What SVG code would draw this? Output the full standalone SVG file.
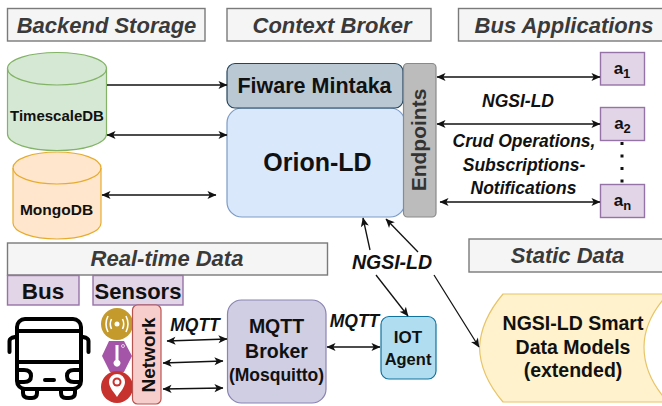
<svg xmlns="http://www.w3.org/2000/svg" width="662" height="406" viewBox="0 0 662 406">
<style>
text{font-family:"Liberation Sans",Arial,sans-serif;text-anchor:middle;fill:#111}
.b{font-weight:bold}
.h{font-weight:bold;font-style:italic;font-size:22px;fill:#3a3a3a}
.hb{fill:#f5f5f5;stroke:#7a7a7a;stroke-width:1.4}
.l{font-weight:bold;font-style:italic;font-size:17.500px}
.m{font-style:italic;font-size:17.500px;font-weight:bold}
.pur{fill:#e1d5e7;stroke:#9673a6;stroke-width:1.4}
.c{fill:none;stroke:#111;stroke-width:1.3}
.c2{stroke-width:1.6}
.bus{fill:none;stroke:#000;stroke-width:4;stroke-linecap:round;stroke-linejoin:round}
.ic{fill:none;stroke:#fff;stroke-width:1.6}
</style>
<defs>
<marker id="a" viewBox="0 0 10 10" refX="9.5" refY="5" markerWidth="10" markerHeight="9" markerUnits="userSpaceOnUse" orient="auto-start-reverse"><path d="M0 0.5L10 5L0 9.5L2.5 5Z" fill="#111"/></marker>
</defs>
<g id="header-backend"><rect class="hb" x="7.500" y="8.500" width="197.500" height="32.500"/><text class="h" x="106.500" y="33">Backend Storage</text></g>
<g id="header-broker"><rect class="hb" x="227" y="8.500" width="204" height="32.500"/><text class="h" x="332" y="33">Context Broker</text></g>
<g id="header-bus-apps"><rect class="hb" x="458.500" y="8.500" width="210" height="32.500"/><text class="h" x="564" y="33">Bus Applications</text></g>
<g id="timescaledb">
<path d="M7.500 68.500C7.500 59.500 29.500 52.500 57 52.500S106.500 59.500 106.500 68.500V134C106.500 143.500 84.500 150.500 57 150.500S7.500 143.500 7.500 134Z" fill="#d5e8d4" stroke="#82b366" stroke-width="1.200"/>
<path d="M7.500 68.500C7.500 77.500 29.500 85 57 85S106.500 77.500 106.500 68.500" fill="none" stroke="#82b366" stroke-width="1.200"/>
<text class="b" x="57" y="121" font-size="15">TimescaleDB</text></g>
<g id="mongodb">
<path d="M13 168C13 159 32.500 152 57 152S101 159 101 168V223C101 232 81.500 239 57 239S13 232 13 223Z" fill="#ffe6cc" stroke="#e6ac2e" stroke-width="1.200"/>
<path d="M13 168C13 177 32.500 184 57 184S101 177 101 168" fill="none" stroke="#e6ac2e" stroke-width="1.200"/>
<text class="b" x="56.500" y="215" font-size="15.500">MongoDB</text></g>
<g id="orion-ld"><rect x="227" y="108" width="178" height="109" rx="15" fill="#dae8fc" stroke="#7c9cc6" stroke-width="1.200"/><text class="b" x="317.500" y="171" font-size="25">Orion-LD</text></g>
<g id="fiware-mintaka"><rect x="227" y="63.500" width="176" height="44.500" rx="8" fill="#bac8d3" stroke="#23445d" stroke-width="1.200"/><text class="b" x="314.500" y="93" font-size="21.500">Fiware Mintaka</text></g>
<g id="endpoints"><rect x="403.500" y="63.500" width="32.500" height="153.500" rx="4" fill="#bcbcbc" stroke="#8a8a8a" stroke-width="1.200"/><text class="b" x="0" y="0" font-size="21" transform="translate(426 140) rotate(-90)" style="fill:#333">Endpoints</text></g>
<g id="a1"><rect class="pur" x="600.500" y="52.500" width="44" height="32.500"/><text class="b" x="622" y="74" font-size="17">a<tspan font-size="13" dy="4">1</tspan></text></g>
<g id="a2"><rect class="pur" x="600.500" y="107.500" width="44" height="33"/><text class="b" x="622.500" y="129" font-size="17">a<tspan font-size="13" dy="4">2</tspan></text></g>
<g id="an"><rect class="pur" x="600.500" y="184.500" width="44" height="33"/><text class="b" x="622.500" y="206" font-size="17">a<tspan font-size="13" dy="4">n</tspan></text></g>
<g id="header-realtime"><rect class="hb" x="7.500" y="243" width="320" height="32"/><text class="h" x="167" y="266">Real-time Data</text></g>
<g id="bus-label"><rect class="pur" x="7.500" y="275.500" width="71.500" height="29.500"/><text class="b" x="43" y="299" font-size="22.500">Bus</text></g>
<g id="sensors-label"><rect class="pur" x="93" y="275.500" width="90" height="29.500"/><text class="b" x="138" y="299" font-size="22">Sensors</text></g>
<g id="bus-icon">
<rect class="bus" x="17" y="319" width="64" height="70" rx="8"/>
<path class="bus" d="M17 331H81M17 362H81M9.500 352V341Q9.500 338 15 337M88.500 352V341Q88.500 338 83 337M19 370H24Q31 370 31 376Q31 382 24 382H19M79 370H74Q67 370 67 376Q67 382 74 382H79M45 380H54"/>
<path class="bus" d="M23 390V393Q23 398 29 398H32Q37 398 37 393V390M61 390V393Q61 398 66 398H69Q75 398 75 393V390"/>
</g>
<g id="sensor-wifi"><circle cx="117" cy="324" r="16" fill="#c49a2c"/><circle cx="117" cy="324" r="2.500" fill="#fff"/><path class="ic" d="M111.500 319Q109 324 111.500 329M122.500 319Q125 324 122.500 329M108 316Q104 324 108 332M126 316Q130 324 126 332"/></g>
<g id="sensor-temp"><path d="M109 341H124L132 356L124 372H110L102 356Z" fill="#a455a8"/><path d="M115.500 345H118.500V360A3.500 3.500 0 1 1 115.500 360Z" fill="#fff"/><circle cx="123" cy="346" r="1.500" fill="none" stroke="#fff" stroke-width=".7"/></g>
<g id="sensor-location"><circle cx="117" cy="387" r="16" fill="#c8322e"/><path d="M117 397C113 391 109 387 109 382A8 8 0 0 1 125 382C125 387 121 391 117 397Z" fill="#fff"/><circle cx="117" cy="382" r="4.500" fill="#c8322e"/><circle cx="117" cy="382" r="2.500" fill="#fff"/></g>
<g id="network"><rect x="132.500" y="305" width="28.500" height="99" rx="5" fill="#f8cecc" stroke="#b85450" stroke-width="1.200"/><text class="b" x="0" y="0" font-size="19" transform="translate(155 355) rotate(-90)">Network</text></g>
<g id="mqtt-broker"><rect x="227.500" y="300" width="98.500" height="103" rx="14" fill="#d0cee2" stroke="#8a83b5" stroke-width="1.200"/><text class="b" x="276.500" y="333" font-size="19.500">MQTT</text><text class="b" x="276.500" y="358" font-size="19.500">Broker</text><text class="b" x="276.500" y="381" font-size="17.500">(Mosquitto)</text></g>
<g id="iot-agent"><rect x="381" y="316.500" width="55" height="62.500" rx="8" fill="#b1ddf0" stroke="#10739e" stroke-width="1.200"/><text class="b" x="408" y="343" font-size="17">IOT</text><text class="b" x="408" y="365" font-size="16.500">Agent</text></g>
<g id="header-static"><rect class="hb" x="469" y="239" width="200" height="33"/><text class="h" x="567.500" y="263">Static Data</text></g>
<g id="smart-data-models"><path d="M503 294H668V402H503Q480 375 479.500 347Q481 320 503 294Z" fill="#fff2cc" stroke="#e8c468" stroke-width="1.200"/><path d="M668 294Q644 320 644 347Q644 376 668 402Z" fill="#fff" stroke="#e8c468" stroke-width="1.200"/><text class="b" x="573" y="330" font-size="19.500">NGSI-LD Smart</text><text class="b" x="573" y="354" font-size="19.500">Data Models</text><text class="b" x="573" y="377" font-size="19.500">(extended)</text></g>
<g id="connectors">
<path class="c" marker-end="url(#a)" d="M107 85H227"/>
<path class="c c2" marker-start="url(#a)" marker-end="url(#a)" d="M107 135H227"/>
<path class="c" marker-start="url(#a)" marker-end="url(#a)" d="M102 195H216"/>
<path class="c c2" marker-start="url(#a)" marker-end="url(#a)" d="M437 77H600"/>
<path class="c c2" marker-start="url(#a)" marker-end="url(#a)" d="M437 124H600"/>
<path class="c" marker-start="url(#a)" marker-end="url(#a)" d="M440 202H600"/>
<path class="c" marker-end="url(#a)" d="M370 250L363 218"/>
<path class="c" marker-end="url(#a)" d="M418 252L386 219"/>
<path class="c" marker-end="url(#a)" d="M376 275L408 316"/>
<path class="c" marker-end="url(#a)" d="M434 275L479 347"/>
<path class="c" marker-start="url(#a)" marker-end="url(#a)" d="M327 347H380"/>
<path class="c" marker-start="url(#a)" marker-end="url(#a)" d="M167 341L227 339"/>
<path class="c" marker-start="url(#a)" marker-end="url(#a)" d="M163 363L223 361"/>
<path class="c" marker-start="url(#a)" marker-end="url(#a)" d="M163 389L223 388"/>
<path d="M622 142V183" fill="none" stroke="#111" stroke-width="3" stroke-dasharray="3 9.500"/>
</g>
<g id="labels">
<text class="l" x="518" y="107">NGSI-LD</text>
<text class="l" x="524" y="147">Crud Operations,</text>
<text class="l" x="524" y="171">Subscriptions-</text>
<text class="l" x="523.500" y="194">Notifications</text>
<text class="l" x="392" y="269" style="font-size:19.500px">NGSI-LD</text>
<text class="m" x="195" y="331">MQTT</text>
<text class="m" x="354.500" y="327">MQTT</text>
</g>
</svg>
